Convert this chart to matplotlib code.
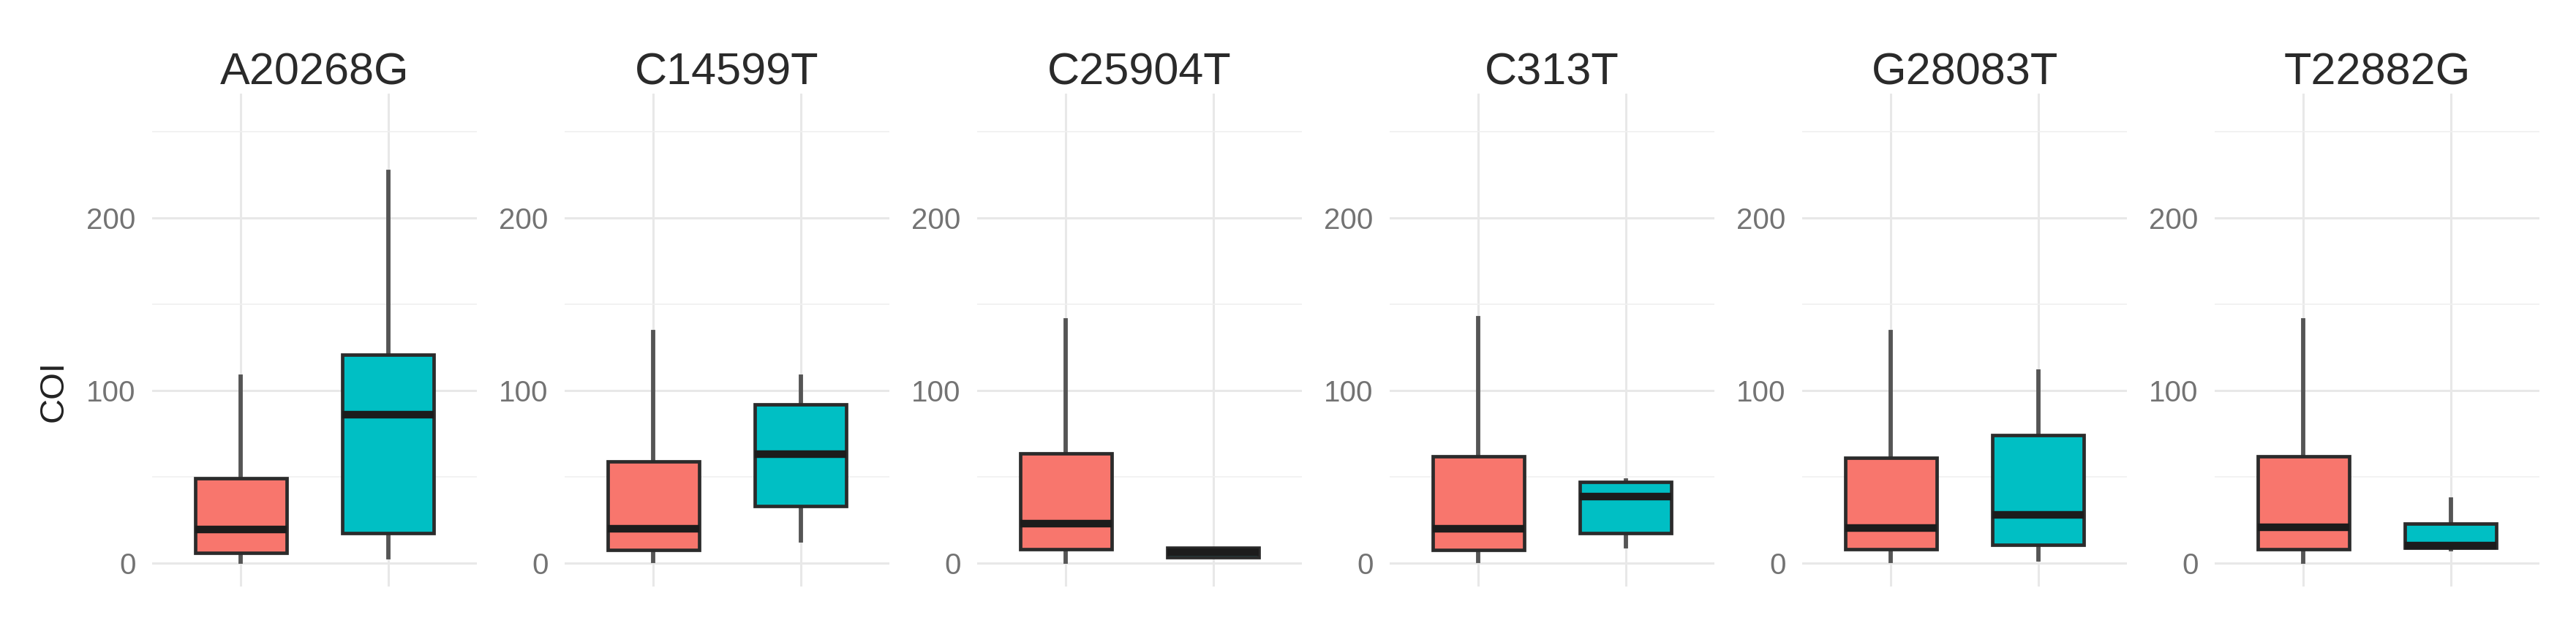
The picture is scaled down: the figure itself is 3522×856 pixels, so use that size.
import matplotlib
matplotlib.use('Agg')
import matplotlib.pyplot as plt

plt.rcParams['font.family'] = ['Liberation Sans', 'DejaVu Sans']

mutations = ['A20268G', 'C14599T', 'C25904T', 'C313T', 'G28083T', 'T22882G']

# first group (red)
ref_low = [1, 1.5, 1, 1.5, 1.5, 1]
ref_q1 = [6, 7.6, 8, 7.6, 8.3, 8]
ref_med = [19.6, 20, 23, 20, 20.5, 21]
ref_q3 = [49, 59, 63.4, 62, 61, 62]
ref_high = [108, 134, 140.7, 142, 134, 140.7]

# second group (teal)
alt_low = [3.5, 13, 3.5, 10, 2.3, 8]
alt_q1 = [17.3, 33, 3.5, 17.4, 10.6, 8.8]
alt_med = [86, 63, 6.2, 38.6, 28, 10.4]
alt_q3 = [120.6, 92, 8.8, 47, 74, 23]
alt_high = [226.5, 108, 8.8, 48, 111, 37]

y_ticks = [0, 100, 200]
y_minor = [50, 150, 250]
fill_colors = ['#F8766D', '#00BFC4']

W, H = 3522, 856
fig = plt.figure(figsize=(W / 100, H / 100), dpi=100)

left0 = 208
pitch = 564
pw = 444
top_px = 128
bot_px = 802

for i, mut in enumerate(mutations):
    ax = fig.add_axes([(left0 + pitch * i) / W, (H - bot_px) / H,
                       pw / W, (bot_px - top_px) / H])
    stats = [
        dict(whislo=ref_low[i], q1=ref_q1[i], med=ref_med[i], q3=ref_q3[i], whishi=ref_high[i], fliers=[]),
        dict(whislo=alt_low[i], q1=alt_q1[i], med=alt_med[i], q3=alt_q3[i], whishi=alt_high[i], fliers=[]),
    ]
    bp = ax.bxp(stats, positions=[1, 2], widths=0.62, patch_artist=True,
                showcaps=False, showfliers=False,
                boxprops=dict(edgecolor='#2b2b2b', linewidth=3.4),
                whiskerprops=dict(color='#555555', linewidth=4.2),
                medianprops=dict(color='#1c1c1c', linewidth=7.5, solid_capstyle='butt'))
    for patch, c in zip(bp['boxes'], fill_colors):
        patch.set_facecolor(c)
    for line in bp['whiskers']:
        line.set_zorder(1.5)

    ax.set_xlim(0.4, 2.6)
    ax.set_ylim(-13.5, 272)
    ax.set_yticks(y_ticks)
    ax.set_yticks(y_minor, minor=True)
    ax.set_xticks([1, 2])
    ax.set_xticklabels([])
    ax.grid(True, which='major', color='#e8e8e8', linewidth=2.2, zorder=0)
    ax.grid(True, which='minor', axis='y', color='#f0f0f0', linewidth=1.2, zorder=0)
    ax.set_axisbelow(True)
    for s in ax.spines.values():
        s.set_visible(False)
    ax.tick_params(axis='both', which='both', length=0)
    ax.tick_params(axis='y', labelsize=29, labelcolor='#737373', pad=16)

    fig.text((left0 + pitch * i + pw / 2) / W, (H - 100) / H, mut,
             ha='center', va='center', fontsize=44, color='#2a2a2a')

fig.text(74 / W, (H - 535) / H, 'COI', rotation=90, ha='center', va='center',
         fontsize=34, color='#222222')

fig.savefig('out.png', dpi=100, facecolor='white')
